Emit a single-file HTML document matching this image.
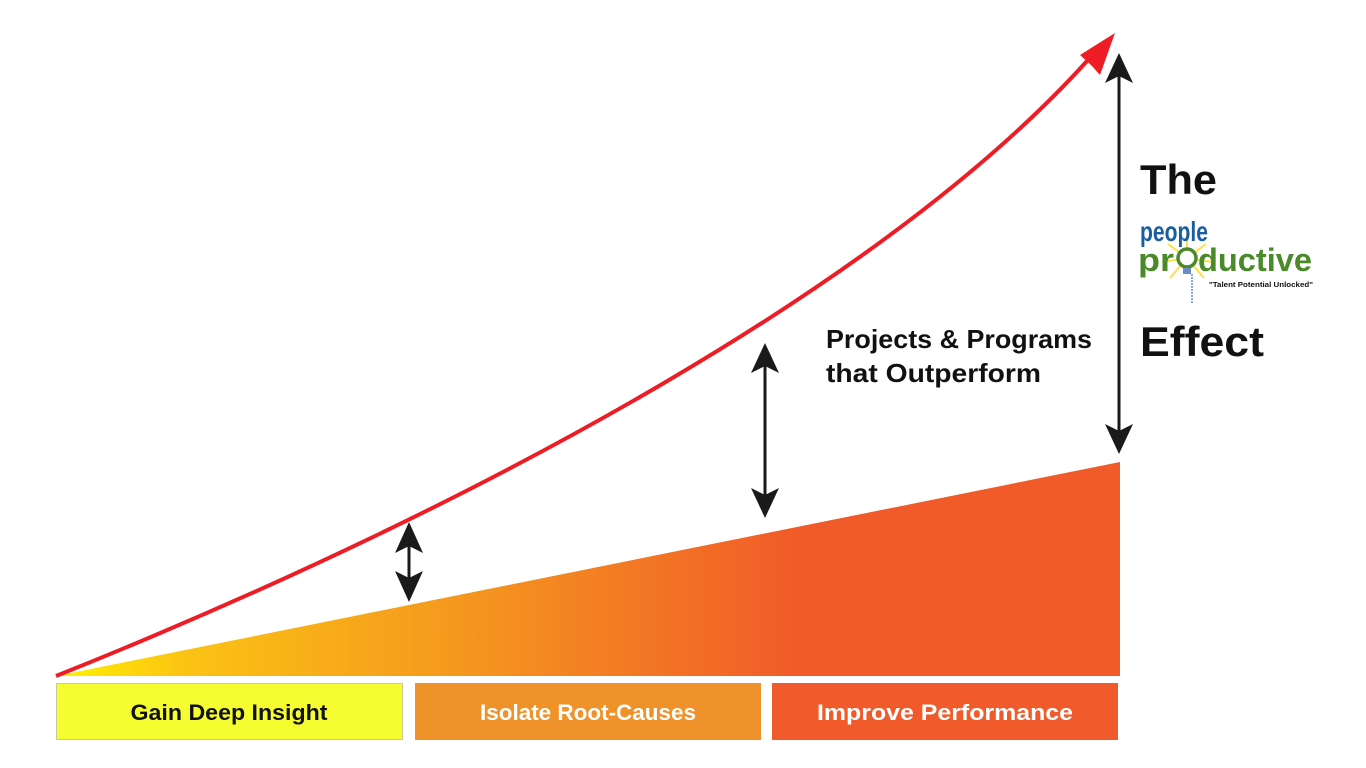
<!DOCTYPE html>
<html><head><meta charset="utf-8"><style>html,body{margin:0;padding:0;background:#fff;}svg{display:block;}</style></head>
<body>
<svg width="1366" height="768" viewBox="0 0 1366 768" xmlns="http://www.w3.org/2000/svg" font-family="Liberation Sans, sans-serif">
<defs>
<linearGradient id="g" x1="56" y1="0" x2="1120" y2="0" gradientUnits="userSpaceOnUse">
<stop offset="0" stop-color="#fff200"/>
<stop offset="0.12" stop-color="#fbc313"/>
<stop offset="0.4" stop-color="#f4941f"/>
<stop offset="0.7" stop-color="#f15a29"/>
<stop offset="1" stop-color="#f15a29"/>
</linearGradient>
</defs>
<polygon points="56,676 1120,462 1120,676" fill="url(#g)"/>
<path d="M56,676 C476,508 895,280 1095,52" fill="none" stroke="#ee1c25" stroke-width="4"/>
<polygon points="1115,33 1080,55 1092,66 1100,75" fill="#ee1c25"/>
<g fill="#1a1a1a" stroke="#1a1a1a">
<line x1="409" y1="540" x2="409" y2="585" stroke-width="3"/>
<polygon points="409,522 423,553 409,546 395,553" stroke="none"/>
<polygon points="409,602 423,571 409,578 395,571" stroke="none"/>
<line x1="765" y1="360" x2="765" y2="500" stroke-width="3"/>
<polygon points="765,343 779,373 765,366 751,373" stroke="none"/>
<polygon points="765,518 779,488 765,495 751,488" stroke="none"/>
<line x1="1119" y1="70" x2="1119" y2="436" stroke-width="3"/>
<polygon points="1119,53 1133,83 1119,76 1105,83" stroke="none"/>
<polygon points="1119,454 1133,424 1119,431 1105,424" stroke="none"/>
</g>
<text x="826" y="348" font-size="26" font-weight="bold" fill="#111" textLength="266" lengthAdjust="spacingAndGlyphs">Projects &amp; Programs</text>
<text x="826" y="382" font-size="26" font-weight="bold" fill="#111" textLength="215" lengthAdjust="spacingAndGlyphs">that Outperform</text>
<text x="1140" y="194" font-size="42" font-weight="bold" fill="#111" textLength="77" lengthAdjust="spacingAndGlyphs">The</text>
<text x="1140" y="356" font-size="42" font-weight="bold" fill="#111" textLength="124" lengthAdjust="spacingAndGlyphs">Effect</text>
<g>
<g stroke="#fde047" stroke-width="2">
<line x1="1187" y1="258" x2="1187" y2="233"/><line x1="1187" y1="258" x2="1168" y2="244"/><line x1="1187" y1="258" x2="1206" y2="244"/>
<line x1="1187" y1="258" x2="1162" y2="262"/><line x1="1187" y1="258" x2="1212" y2="262"/><line x1="1187" y1="258" x2="1170" y2="278"/><line x1="1187" y1="258" x2="1204" y2="278"/>
</g>
<text x="1140" y="241" font-size="28" font-weight="bold" fill="#1b5e9f" textLength="68" lengthAdjust="spacingAndGlyphs">people</text>
<text x="1138" y="271" font-size="32" font-weight="bold" fill="#4a8a2a" textLength="36" lengthAdjust="spacingAndGlyphs">pr</text>
<text x="1198" y="271" font-size="32" font-weight="bold" fill="#4a8a2a" textLength="114" lengthAdjust="spacingAndGlyphs">ductive</text>
<circle cx="1187" cy="258" r="9" fill="#fff" stroke="#4a8a2a" stroke-width="3.5"/>
<rect x="1183" y="268" width="8" height="6" fill="#6b8cc7"/>
<line x1="1192" y1="274" x2="1192" y2="304" stroke="#6b8cc7" stroke-width="1.5" stroke-dasharray="2,1"/>
<text x="1209" y="287" font-size="7" font-weight="bold" fill="#111" textLength="104" lengthAdjust="spacingAndGlyphs">"Talent Potential Unlocked"</text>
</g>
<rect x="56.5" y="683.5" width="346" height="56" fill="#f5fd31" stroke="#c9c9a0"/>
<rect x="415" y="683" width="346" height="57" fill="#f0922a"/>
<rect x="772" y="683" width="346" height="57" fill="#f15a2b"/>
<text x="229" y="720" font-size="22" font-weight="bold" fill="#111" text-anchor="middle" textLength="197" lengthAdjust="spacingAndGlyphs">Gain Deep Insight</text>
<text x="588" y="720" font-size="22" font-weight="bold" fill="#fff" text-anchor="middle" textLength="216" lengthAdjust="spacingAndGlyphs">Isolate Root-Causes</text>
<text x="945" y="720" font-size="22" font-weight="bold" fill="#fff" text-anchor="middle" textLength="256" lengthAdjust="spacingAndGlyphs">Improve Performance</text>
</svg>
</body></html>
